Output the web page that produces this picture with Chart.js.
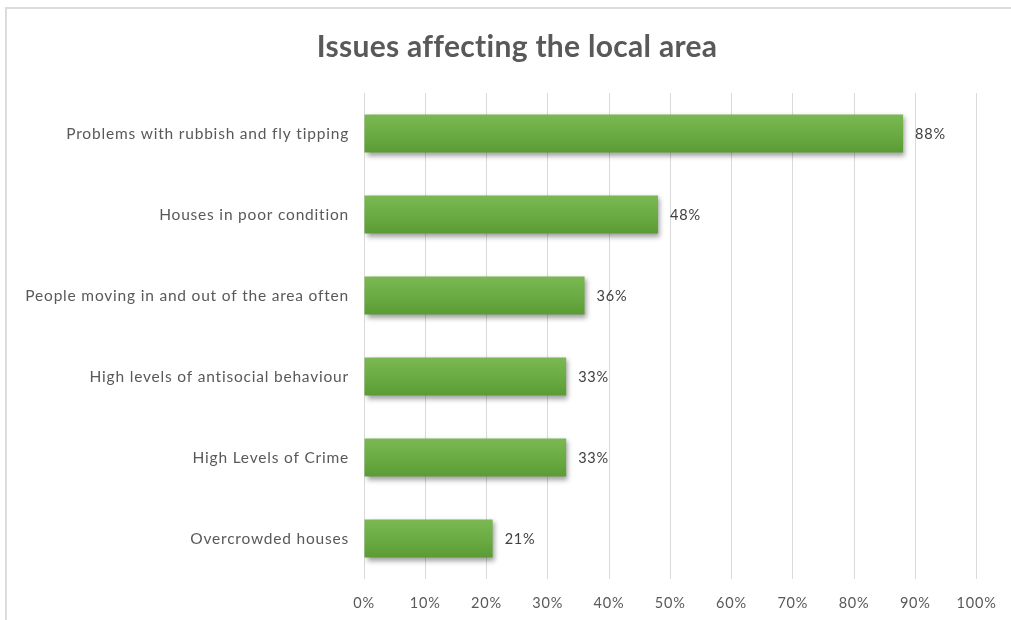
<!DOCTYPE html>
<html>
<head>
<meta charset="utf-8">
<title>Issues affecting the local area</title>
<script src="https://cdn.jsdelivr.net/npm/chart.js@4/dist/chart.umd.min.js"></script>
<style>
    html, body { margin: 0; padding: 0; background: #fff; }
    #wrap { position: relative; width: 1011px; height: 620px; overflow: hidden; }
    #frame {
        position: absolute; left: 5px; top: 7px; width: 1020px; height: 640px;
        border-left: 2px solid #dcdcdc; border-top: 2px solid #dcdcdc;
    }
    #chart { position: absolute; left: 0; top: 0; }
</style>
</head>
<body>
<div id="wrap">
    <div id="frame"></div>
    <canvas id="chart" width="1011" height="620"></canvas>
</div>
<script>
// Survey results: share of respondents naming each issue
const chartTitle = 'Issues affecting the local area';
const issues = [
    'Problems with rubbish and fly tipping',
    'Houses in poor condition',
    'People moving in and out of the area often',
    'High levels of antisocial behaviour',
    'High Levels of Crime',
    'Overcrowded houses'
];
const percentages = [88, 48, 36, 33, 33, 21];
const xTicks = [0, 10, 20, 30, 40, 50, 60, 70, 80, 90, 100];

const FONT = 'Lato, "Open Sans", sans-serif';
const TEXT_GREY = '#595959';

// Vertical green gradient for each bar, built around its row centre
function barGradient(context) {
    const chart = context.chart;
    const yScale = chart.scales.y;
    if (!yScale || context.dataIndex === undefined) return '#6aaa42';
    const cy = yScale.getPixelForValue(context.dataIndex);
    if (!Number.isFinite(cy)) return '#6aaa42';
    const g = chart.ctx.createLinearGradient(0, cy - 19, 0, cy + 19);
    g.addColorStop(0, '#7bb853');
    g.addColorStop(0.5, '#6cac44');
    g.addColorStop(1, '#5b9b34');
    return g;
}

// Slightly looser text tracking for the axis labels
const tracking = {
    id: 'tracking',
    beforeDraw(chart) {
        chart.ctx.letterSpacing = '0.8px';
    },
    afterDraw(chart) {
        chart.ctx.letterSpacing = '0px';
    }
};

// Title drawn centred over the whole frame
const frameTitle = {
    id: 'frameTitle',
    afterDraw(chart) {
        const ctx = chart.ctx;
        ctx.save();
        ctx.letterSpacing = '0.3px';
        ctx.font = 'bold 30px ' + FONT;
        ctx.fillStyle = TEXT_GREY;
        ctx.textAlign = 'center';
        ctx.textBaseline = 'middle';
        ctx.fillText(chartTitle, 517, 47);
        ctx.restore();
    }
};

// Soft drop shadow under the bars
const barShadow = {
    id: 'barShadow',
    beforeDatasetsDraw(chart) {
        const ctx = chart.ctx;
        ctx.save();
        ctx.shadowColor = 'rgba(0, 0, 0, 0.38)';
        ctx.shadowBlur = 5;
        ctx.shadowOffsetX = 2;
        ctx.shadowOffsetY = 3;
    },
    afterDatasetsDraw(chart) {
        chart.ctx.restore();
    }
};

// Percentage label just past the end of each bar
const valueLabels = {
    id: 'valueLabels',
    afterDraw(chart) {
        const ctx = chart.ctx;
        const meta = chart.getDatasetMeta(0);
        ctx.save();
        ctx.letterSpacing = '0.8px';
        ctx.font = '14.5px ' + FONT;
        ctx.fillStyle = '#404040';
        ctx.textAlign = 'left';
        ctx.textBaseline = 'middle';
        meta.data.forEach((bar, i) => {
            ctx.fillText(percentages[i] + '%', bar.x + 12, bar.y + 1);
        });
        ctx.restore();
    }
};

new Chart(document.getElementById('chart'), {
    type: 'bar',
    data: {
        labels: issues,
        datasets: [{
            data: percentages,
            backgroundColor: barGradient,
            borderWidth: 0,
            categoryPercentage: 1,
            barPercentage: 0.47
        }]
    },
    plugins: [tracking, barShadow, valueLabels, frameTitle],
    options: {
        indexAxis: 'y',
        responsive: false,
        animation: false,
        layout: {
            padding: { top: 93, right: 33, bottom: 0, left: 0 }
        },
        plugins: {
            legend: { display: false },
            tooltip: { enabled: false },
            title: { display: false }
        },
        scales: {
            x: {
                min: 0,
                max: 100,
                afterBuildTicks(scale) {
                    scale.ticks = xTicks.map(v => ({ value: v }));
                },
                afterFit(scale) {
                    scale.height = 41;
                },
                border: { display: false },
                grid: {
                    color: '#d9d9d9',
                    lineWidth: 1,
                    drawTicks: false
                },
                ticks: {
                    padding: 16,
                    color: TEXT_GREY,
                    font: { family: FONT, size: 14.5 },
                    callback: v => v + '%'
                }
            },
            y: {
                afterFit(scale) {
                    scale.width = 364;
                },
                border: { display: false },
                grid: { display: false, drawTicks: false },
                ticks: {
                    padding: 15,
                    color: TEXT_GREY,
                    font: { family: FONT, size: 15.5 }
                }
            }
        }
    }
});
</script>
</body>
</html>
